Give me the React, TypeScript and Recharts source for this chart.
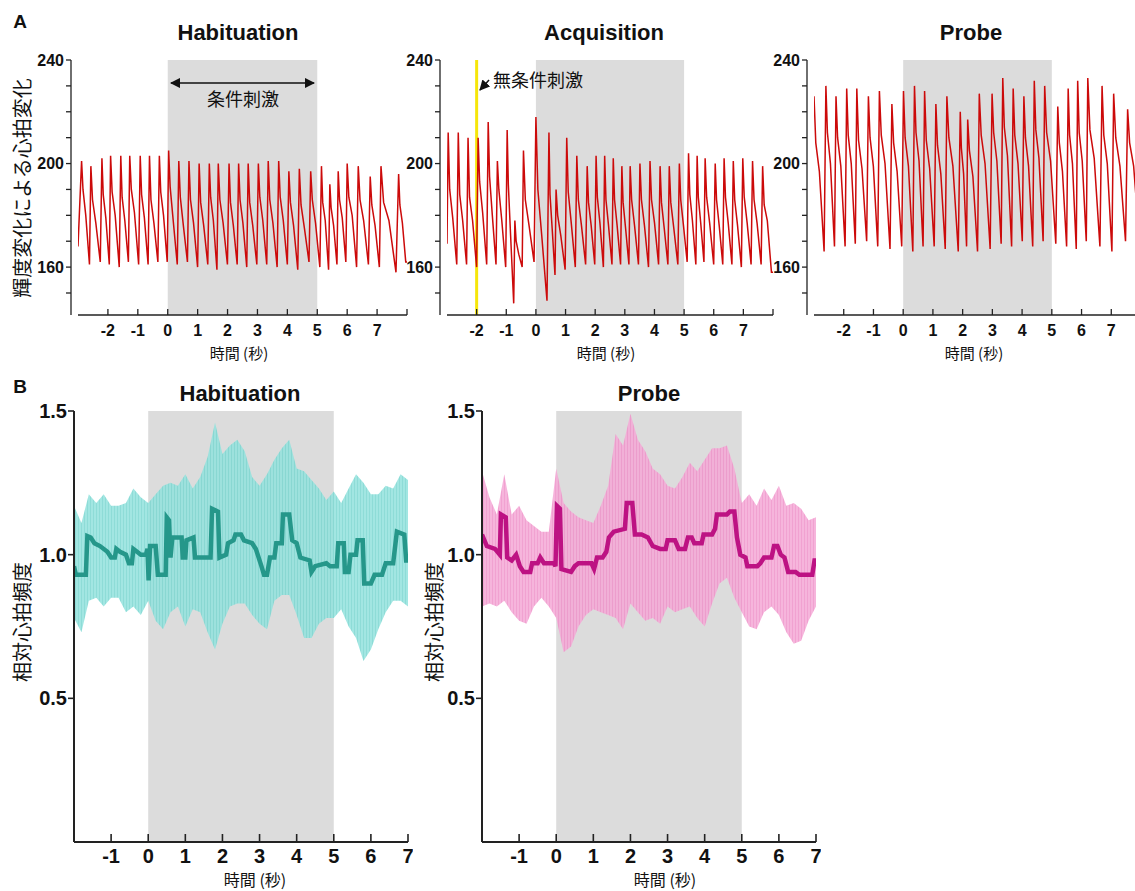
import React from "react";
import {
  ComposedChart,
  Line,
  Area,
  XAxis,
  YAxis,
  ReferenceArea,
  ReferenceLine,
} from "recharts";

const FONT = '"Liberation Sans", Arial, Helvetica, sans-serif';
const JP = '"Noto Sans CJK JP", "Noto Sans", sans-serif';

// ---- Panel A: beat-by-beat readings (peak time in s, brightness values)
const habBeatT = [-2.88, -2.57, -2.2, -1.91, -1.57, -1.27, -0.92, -0.61, -0.28, 0.03, 0.37, 0.71, 1.05, 1.39, 1.69, 2.05, 2.37, 2.69, 3.03, 3.36, 3.71, 4.05, 4.4, 4.78, 5.14, 5.42, 5.7, 6.0, 6.37, 6.77, 7.13, 7.72];
const habPeak = [201, 199, 202, 203, 203, 203, 203, 203, 203, 205, 201, 201, 200, 200, 200, 200, 200, 200, 200, 201, 201, 197, 198, 197, 199, 192, 197, 200, 199, 195, 199, 196];
const habShoulder = [190, 186, 188, 189, 187, 190, 188, 186, 189, 191, 187, 186, 185, 187, 186, 185, 186, 185, 187, 186, 187, 185, 184, 186, 185, 183, 186, 187, 186, 184, 185, 184];
const habMid = [180, 177, 179, 180, 178, 181, 179, 177, 180, 178, 176, 177, 176, 178, 177, 176, 177, 176, 178, 177, 178, 176, 175, 177, 178, 176, 179, 180, 178, 176, 178, 177];
const habTrough = [161, 162, 161, 160, 162, 161, 161, 162, 162, 161, 162, 160, 161, 159, 161, 161, 160, 161, 161, 160, 161, 159, 162, 160, 159, 161, 162, 160, 161, 160, 158, 162];
const habStart = [-3, 168];
const habEnd = [8, 162];

const acqBeatT = [-2.96, -2.62, -2.29, -1.95, -1.61, -1.3, -0.97, -0.71, -0.42, 0.0, 0.44, 0.68, 1.04, 1.38, 1.73, 2.03, 2.32, 2.61, 2.9, 3.18, 3.51, 3.85, 4.19, 4.5, 4.84, 5.15, 5.44, 5.71, 6.05, 6.35, 6.66, 6.98, 7.31, 7.65];
const acqPeak = [212, 212, 210, 210, 216, 201, 213, 178, 205, 218, 212, 190, 210, 203, 199, 203, 203, 202, 199, 199, 200, 201, 199, 199, 200, 204, 203, 202, 200, 202, 201, 202, 201, 199];
const acqShoulder = [190, 188, 187, 193, 195, 190, 192, 170, 186, 190, 188, 180, 189, 186, 185, 187, 186, 186, 185, 186, 186, 186, 185, 185, 186, 188, 187, 187, 186, 187, 186, 187, 186, 184];
const acqMid = [179, 178, 178, 181, 180, 178, 172, 165, 176, 172, 175, 172, 177, 176, 176, 177, 176, 176, 175, 176, 176, 177, 175, 175, 176, 178, 177, 177, 176, 177, 176, 177, 177, 178];
const acqTrough = [161, 161, 160, 161, 161, 160, 146, 160, 162, 147, 157, 159, 160, 161, 161, 160, 161, 161, 161, 161, 160, 161, 161, 161, 162, 161, 162, 161, 161, 161, 160, 161, 161, 158];
const acqStart = [-3, 169];
const acqEnd = [8, 158];

const probeBeatT = [-3.0, -2.6, -2.26, -1.9, -1.56, -1.17, -0.8, -0.38, 0.01, 0.38, 0.72, 1.1, 1.47, 1.92, 2.17, 2.56, 2.99, 3.35, 3.7, 4.06, 4.41, 4.76, 5.2, 5.55, 5.87, 6.21, 6.69, 7.08, 7.55];
const probePeak = [226, 230, 226, 229, 229, 226, 228, 223, 228, 230, 228, 223, 226, 220, 217, 227, 227, 233, 229, 226, 232, 230, 222, 229, 232, 233, 230, 227, 221];
const probeShoulder = [208, 212, 210, 211, 209, 210, 211, 208, 210, 212, 209, 207, 210, 206, 205, 211, 212, 214, 211, 210, 213, 212, 208, 211, 212, 213, 211, 210, 208];
const probeMid = [197, 200, 199, 200, 198, 199, 200, 197, 199, 201, 198, 196, 199, 196, 195, 200, 201, 203, 200, 199, 202, 201, 197, 200, 201, 202, 200, 199, 199];
const probeTrough = [166, 168, 168, 169, 170, 168, 167, 168, 166, 168, 168, 167, 166, 168, 166, 167, 169, 168, 170, 168, 170, 169, 168, 167, 170, 168, 166, 170, 172];
const probeStart = [-3, 226];
const probeEnd = [8, 195];

const aXTicks = [-2, -1, 0, 1, 2, 3, 4, 5, 6, 7, 8];
const aYTicks = [150, 160, 170, 180, 190, 200, 210, 220, 230, 240];
const aYLabels = [160, 200, 240];

// ---- Panel B: relative heart rate, mean and error band
const bandT = [-2.0, -1.8, -1.6, -1.4, -1.2, -1.0, -0.8, -0.6, -0.4, -0.2, 0.0, 0.2, 0.4, 0.6, 0.8, 1.0, 1.2, 1.4, 1.6, 1.8, 2.0, 2.2, 2.4, 2.6, 2.8, 3.0, 3.2, 3.4, 3.6, 3.8, 4.0, 4.2, 4.4, 4.6, 4.8, 5.0, 5.2, 5.4, 5.6, 5.8, 6.0, 6.2, 6.4, 6.6, 6.8, 7.0];
const bHabUpper = [1.17, 1.11, 1.21, 1.18, 1.21, 1.17, 1.17, 1.18, 1.23, 1.2, 1.18, 1.21, 1.24, 1.25, 1.24, 1.28, 1.23, 1.27, 1.34, 1.46, 1.35, 1.38, 1.4, 1.36, 1.27, 1.24, 1.28, 1.33, 1.37, 1.4, 1.3, 1.29, 1.26, 1.23, 1.19, 1.22, 1.18, 1.23, 1.28, 1.25, 1.21, 1.21, 1.24, 1.23, 1.28, 1.26];
const bHabLower = [0.78, 0.73, 0.84, 0.85, 0.82, 0.85, 0.85, 0.8, 0.82, 0.79, 0.84, 0.77, 0.74, 0.8, 0.82, 0.75, 0.81, 0.8, 0.73, 0.67, 0.76, 0.82, 0.83, 0.83, 0.79, 0.76, 0.74, 0.84, 0.86, 0.86, 0.79, 0.71, 0.71, 0.76, 0.78, 0.78, 0.81, 0.75, 0.71, 0.63, 0.67, 0.74, 0.8, 0.84, 0.84, 0.82];
const bProbeUpper = [1.29, 1.2, 1.14, 1.28, 1.14, 1.17, 1.12, 1.1, 1.08, 1.08, 1.3, 1.18, 1.15, 1.13, 1.12, 1.11, 1.17, 1.24, 1.42, 1.38, 1.49, 1.4, 1.36, 1.3, 1.28, 1.24, 1.23, 1.27, 1.32, 1.29, 1.33, 1.37, 1.37, 1.38, 1.3, 1.18, 1.21, 1.17, 1.23, 1.19, 1.24, 1.17, 1.18, 1.16, 1.12, 1.13];
const bProbeLower = [0.82, 0.83, 0.82, 0.84, 0.8, 0.77, 0.76, 0.82, 0.85, 0.82, 0.78, 0.66, 0.68, 0.75, 0.79, 0.81, 0.8, 0.79, 0.78, 0.74, 0.83, 0.8, 0.77, 0.78, 0.76, 0.82, 0.8, 0.81, 0.82, 0.78, 0.75, 0.83, 0.9, 0.92, 0.85, 0.8, 0.75, 0.74, 0.8, 0.82, 0.79, 0.73, 0.69, 0.7, 0.77, 0.82];

const bHabMeanT = [-2.0, -1.95, -1.68, -1.64, -1.55, -1.45, -1.3, -1.1, -1.0, -0.9, -0.86, -0.76, -0.6, -0.52, -0.44, -0.4, -0.3, -0.2, -0.06, -0.02, 0.01, 0.05, 0.2, 0.26, 0.47, 0.5, 0.56, 0.6, 0.65, 0.9, 0.93, 1.0, 1.03, 1.22, 1.26, 1.5, 1.68, 1.72, 1.88, 1.92, 2.1, 2.15, 2.3, 2.35, 2.5, 2.58, 2.8, 2.9, 3.05, 3.12, 3.2, 3.28, 3.4, 3.45, 3.6, 3.63, 3.8, 3.88, 4.0, 4.1, 4.35, 4.4, 4.5, 4.8, 4.9, 5.08, 5.12, 5.27, 5.3, 5.4, 5.45, 5.6, 5.64, 5.78, 5.82, 6.0, 6.1, 6.3, 6.4, 6.6, 6.7, 6.9, 6.95, 7.0];
const bHabMeanV = [0.96, 0.93, 0.93, 1.065, 1.06, 1.04, 1.03, 1.01, 0.99, 0.99, 1.02, 1.01, 1.0, 0.97, 0.97, 1.02, 1.01, 1.0, 1.0, 1.02, 0.91, 1.03, 1.03, 0.93, 0.93, 1.13, 1.12, 0.99, 1.06, 1.06, 0.99, 0.99, 1.05, 1.06, 0.99, 0.99, 0.99, 1.16, 1.15, 0.99, 1.0, 1.04, 1.05, 1.07, 1.07, 1.05, 1.04, 1.02, 0.96, 0.93, 0.93, 0.99, 0.99, 1.04, 1.04, 1.14, 1.14, 1.05, 1.04, 0.99, 0.98, 0.94, 0.96, 0.97, 0.96, 0.96, 1.04, 1.04, 0.94, 0.94, 1.0, 1.0, 1.05, 1.05, 0.9, 0.9, 0.93, 0.93, 0.97, 0.97, 1.08, 1.07, 0.98, 0.98];
const bProbeMeanT = [-2.0, -1.87, -1.65, -1.52, -1.49, -1.36, -1.32, -1.2, -1.08, -0.98, -0.88, -0.7, -0.65, -0.5, -0.43, -0.33, -0.06, -0.02, 0.02, 0.1, 0.14, 0.4, 0.5, 0.6, 0.8, 0.95, 1.02, 1.1, 1.25, 1.35, 1.42, 1.55, 1.85, 1.9, 2.05, 2.12, 2.3, 2.47, 2.6, 2.8, 2.95, 3.0, 3.2, 3.3, 3.47, 3.55, 3.65, 3.72, 3.92, 3.97, 4.2, 4.28, 4.33, 4.6, 4.68, 4.8, 4.87, 4.96, 5.1, 5.15, 5.42, 5.5, 5.6, 5.8, 5.87, 5.96, 6.05, 6.15, 6.25, 6.45, 6.55, 6.9, 6.96, 7.0];
const bProbeMeanV = [1.07, 1.03, 1.02, 1.0, 1.14, 1.13, 0.99, 0.98, 1.0, 0.96, 0.94, 0.94, 0.97, 0.97, 0.99, 0.97, 0.97, 0.96, 1.17, 1.16, 0.95, 0.94, 0.96, 0.97, 0.97, 0.97, 0.95, 0.99, 0.99, 1.01, 1.06, 1.08, 1.09, 1.18, 1.18, 1.07, 1.07, 1.06, 1.03, 1.02, 1.02, 1.05, 1.05, 1.02, 1.02, 1.06, 1.06, 1.04, 1.04, 1.07, 1.07, 1.09, 1.14, 1.14, 1.15, 1.15, 1.06, 1.0, 0.99, 0.96, 0.96, 0.97, 0.99, 0.99, 1.03, 1.03, 1.0, 0.99, 0.94, 0.94, 0.93, 0.93, 0.98, 0.98];

const bXTicks = [-1, 0, 1, 2, 3, 4, 5, 6, 7];
const bYTicks = [0.5, 1.0, 1.5];

// each beat: sharp rise to the peak, drop to shoulder, slow decline, trough
function buildTrace(times: number[], peaks: number[], shoulders: number[], mids: number[], troughs: number[], start: number[], end: number[]) {
  const pts = [{ t: start[0], v: start[1] }];
  times.forEach((t, i) => {
    const next = i < times.length - 1 ? times[i + 1] : end[0];
    const g = next - t;
    pts.push({ t, v: peaks[i] });
    pts.push({ t: t + 0.15 * g, v: shoulders[i] });
    pts.push({ t: t + 0.45 * g, v: mids[i] });
    pts.push({ t: t + 0.85 * g, v: troughs[i] });
  });
  pts.push({ t: end[0], v: end[1] });
  return pts;
}

const habTrace = buildTrace(habBeatT, habPeak, habShoulder, habMid, habTrough, habStart, habEnd);
const acqTrace = buildTrace(acqBeatT, acqPeak, acqShoulder, acqMid, acqTrough, acqStart, acqEnd);
const probeTrace = buildTrace(probeBeatT, probePeak, probeShoulder, probeMid, probeTrough, probeStart, probeEnd);

const bandRows = (lo: number[], hi: number[]) => bandT.map((t, i) => ({ t, range: [lo[i], hi[i]] }));
const meanRows = (ts: number[], vs: number[]) => ts.map((t, i) => ({ t, v: vs[i] }));

const AX = "#222";
const GRAY = "#dcdcdc";
const RED = "#cc0a0a";

function XTickA(props: any) {
  const { x, y, payload } = props;
  return (
    <g>
      <line x1={x} x2={x} y1={y} y2={y - 6} stroke={AX} strokeWidth={1.3} />
      {payload.value <= 7 ? (
        <text x={x} y={y + 21} textAnchor="middle" fontFamily={FONT} fontWeight={700} fontSize={16} fill="#111">
          {payload.value}
        </text>
      ) : null}
    </g>
  );
}

function XTickB(props: any) {
  const { x, y, payload } = props;
  return (
    <g>
      <line x1={x} x2={x} y1={y} y2={y - 8} stroke={AX} strokeWidth={1.6} />
      <text x={x} y={y + 21} textAnchor="middle" fontFamily={FONT} fontWeight={700} fontSize={20} fill="#111">
        {payload.value}
      </text>
    </g>
  );
}

function TracePanel({ trace, left, marginLeft, width, yellow }: { trace: any[]; left: number; marginLeft: number; width: number; yellow?: boolean }) {
  return (
    <div style={{ position: "absolute", left, top: 0 }}>
      <ComposedChart width={width} height={370} margin={{ top: 60, right: 5, bottom: 10, left: marginLeft }}>
        <XAxis
          type="number"
          dataKey="t"
          domain={[-3, 8]}
          ticks={aXTicks}
          interval={0}
          padding={{ left: 7, right: 0 }}
          axisLine={false}
          tickLine={false}
          tickSize={0}
          tickMargin={0}
          height={45}
          tick={<XTickA />}
          allowDataOverflow
        />
        <YAxis
          type="number"
          domain={[141.5, 240]}
          ticks={aYTicks}
          interval={0}
          width={40}
          tickSize={5}
          tickMargin={2}
          tickFormatter={(v: number) => (aYLabels.includes(v) ? String(v) : "")}
          axisLine={{ stroke: AX, strokeWidth: 1.3 }}
          tickLine={{ stroke: AX, strokeWidth: 1.3 }}
          tick={{ fill: "#111", fontSize: 16, fontWeight: 700, fontFamily: FONT }}
          allowDataOverflow
        />
        <ReferenceArea x1={0} x2={5} y1={141.5} y2={240} fill={GRAY} fillOpacity={1} stroke="none" />
        {yellow ? <ReferenceLine x={-2} stroke="#f6e60a" strokeWidth={3} /> : null}
        <ReferenceLine
          segment={[{ x: -3, y: 141.5 }, { x: 8, y: 141.5 }]}
          stroke={AX}
          strokeWidth={1.3}
          ifOverflow="visible"
        />
        <Line
          data={trace}
          dataKey="v"
          type="linear"
          stroke={RED}
          strokeWidth={1.5}
          dot={false}
          isAnimationActive={false}
        />
      </ComposedChart>
    </div>
  );
}

function RatePanel({ id, left, band, mean, bandColor, stripeColor, lineColor }: { id: string; left: number; band: any[]; mean: any[]; bandColor: string; stripeColor: string; lineColor: string }) {
  return (
    <div style={{ position: "absolute", left, top: 375 }}>
      <ComposedChart width={413} height={516} margin={{ top: 36, right: 5, bottom: 4, left: 29 }}>
        <defs>
          <pattern id={id} width={3} height={6} patternUnits="userSpaceOnUse">
            <rect x={0} y={0} width={3} height={6} fill={bandColor} />
            <rect x={0} y={0} width={1} height={6} fill={stripeColor} />
          </pattern>
        </defs>
        <XAxis
          type="number"
          dataKey="t"
          domain={[-2, 7]}
          ticks={bXTicks}
          interval={0}
          axisLine={{ stroke: AX, strokeWidth: 2 }}
          tickLine={false}
          tickSize={0}
          tickMargin={0}
          height={45}
          tick={<XTickB />}
          allowDataOverflow
        />
        <YAxis
          type="number"
          domain={[0, 1.5]}
          ticks={bYTicks}
          interval={0}
          width={45}
          tickSize={6}
          tickMargin={1}
          tickFormatter={(v: number) => v.toFixed(1)}
          axisLine={{ stroke: AX, strokeWidth: 2 }}
          tickLine={{ stroke: AX, strokeWidth: 1.6 }}
          tick={{ fill: "#111", fontSize: 20, fontWeight: 700, fontFamily: FONT }}
          allowDataOverflow
        />
        <ReferenceArea x1={0} x2={5} y1={0} y2={1.5} fill={GRAY} fillOpacity={1} stroke="none" />
        <Area
          data={band}
          dataKey="range"
          type="linear"
          stroke="none"
          fill={`url(#${id})`}
          fillOpacity={0.85}
          isAnimationActive={false}
        />
        <Line
          data={mean}
          dataKey="v"
          type="linear"
          stroke={lineColor}
          strokeWidth={4.5}
          dot={false}
          isAnimationActive={false}
        />
      </ComposedChart>
    </div>
  );
}

function Txt({ x, y, children, size, bold, font, rotate, anchor }: any) {
  const tx = anchor === "start" ? "0" : "-50%";
  return (
    <div
      style={{
        position: "absolute",
        left: x,
        top: y,
        transform: `translate(${tx}, -50%)${rotate ? " rotate(-90deg)" : ""}`,
        fontFamily: font || FONT,
        fontWeight: bold ? 700 : 400,
        fontSize: size,
        lineHeight: 1,
        whiteSpace: "nowrap",
        color: "#111",
      }}
    >
      {children}
    </div>
  );
}

export default function App() {
  return (
    <div style={{ position: "absolute", left: 0, top: 0, width: 1135, height: 891, overflow: "hidden", background: "#fff" }}>
      <TracePanel trace={habTrace} left={0} marginLeft={31} width={412} />
      <TracePanel trace={acqTrace} left={400} marginLeft={0} width={378} yellow />
      <TracePanel trace={probeTrace} left={767} marginLeft={0} width={379} />

      <RatePanel id="habBand" left={0} band={bandRows(bHabLower, bHabUpper)} mean={meanRows(bHabMeanT, bHabMeanV)} bandColor="#92e2dd" stripeColor="#7ad6d0" lineColor="#25978a" />
      <RatePanel id="probeBand" left={408} band={bandRows(bProbeLower, bProbeUpper)} mean={meanRows(bProbeMeanT, bProbeMeanV)} bandColor="#f5a8d6" stripeColor="#ef92c9" lineColor="#bd1283" />

      <svg width={1135} height={891} style={{ position: "absolute", left: 0, top: 0, pointerEvents: "none" }}>
        <defs>
          <marker id="ah" viewBox="0 0 10 10" refX="9" refY="5" markerWidth="7" markerHeight="7" orient="auto-start-reverse">
            <path d="M0,0 L10,5 L0,10 z" fill="#111" />
          </marker>
        </defs>
        <line x1={171} y1={83} x2={314} y2={83} stroke="#111" strokeWidth={1.5} markerStart="url(#ah)" markerEnd="url(#ah)" />
        <line x1={489} y1={80} x2={480} y2={90} stroke="#111" strokeWidth={1.5} markerEnd="url(#ah)" />
      </svg>

      <Txt x={20} y={21} size={19} bold>A</Txt>
      <Txt x={20} y={386} size={19} bold>B</Txt>

      <Txt x={238} y={33} size={22} bold>Habituation</Txt>
      <Txt x={604} y={33} size={22} bold>Acquisition</Txt>
      <Txt x={971} y={33} size={22} bold>Probe</Txt>
      <Txt x={240} y={394} size={22} bold>Habituation</Txt>
      <Txt x={649} y={394} size={22} bold>Probe</Txt>

      <Txt x={243} y={98} size={18} font={JP}>条件刺激</Txt>
      <Txt x={493} y={79} size={18} font={JP} anchor="start">無条件刺激</Txt>

      <Txt x={239} y={352} size={15} font={JP}>時間 (秒)</Txt>
      <Txt x={606} y={352} size={15} font={JP}>時間 (秒)</Txt>
      <Txt x={974} y={352} size={15} font={JP}>時間 (秒)</Txt>
      <Txt x={255} y={879} size={16} font={JP}>時間 (秒)</Txt>
      <Txt x={665} y={879} size={16} font={JP}>時間 (秒)</Txt>

      <Txt x={22} y={188} size={20} font={JP} rotate>輝度変化による心拍変化</Txt>
      <Txt x={22} y={622} size={20} font={JP} rotate>相対心拍頻度</Txt>
      <Txt x={434} y={622} size={20} font={JP} rotate>相対心拍頻度</Txt>
    </div>
  );
}
